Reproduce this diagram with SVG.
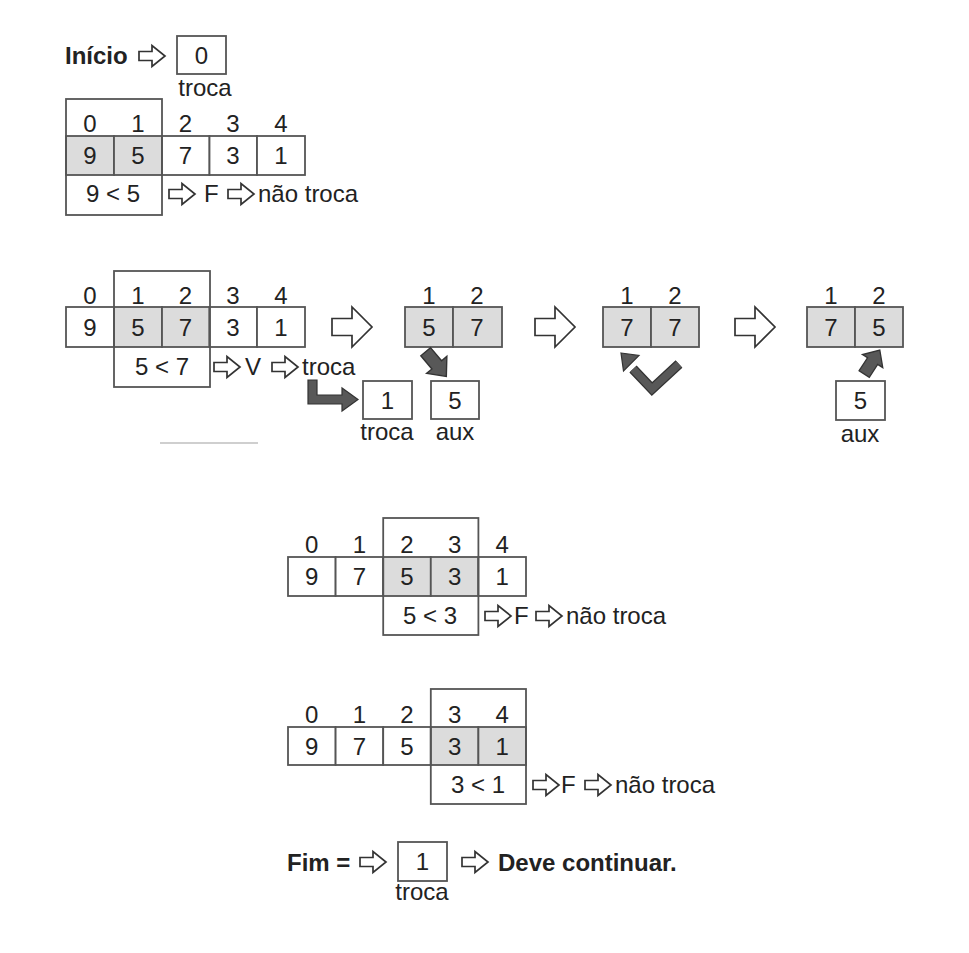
<svg xmlns="http://www.w3.org/2000/svg" width="969" height="953" viewBox="0 0 969 953">
<style>
text{font-family:"Liberation Sans",Arial,sans-serif;font-size:24px;fill:#222}
.b{font-weight:bold}
.m{text-anchor:middle}
.cell{fill:#fff;stroke:#555;stroke-width:1.8}
.sh{fill:#dcdcdc;stroke:#555;stroke-width:1.8}
.win{fill:none;stroke:#555;stroke-width:1.8}
.ha{fill:#fff;stroke:#333;stroke-width:1.7;stroke-linejoin:miter}
.da{fill:#585858;stroke:#333;stroke-width:1.2;stroke-linejoin:miter}
</style>
<defs>
<path id="sa" d="M0,-4.5 H13 V-10.5 L26,0 L13,10.5 V4.5 H0 Z"/>
<path id="ba" d="M0,-8.5 H20 V-20 L40,0 L20,20 V8.5 H0 Z"/>
</defs>
<rect width="969" height="953" fill="#fff"/>

<g id="inicio">
<text x="65" y="64" class="b">Início</text>
<rect class="cell" x="177" y="36" width="49" height="38"/>
<text x="201.5" y="64" class="m">0</text>
<text x="205" y="96" class="m">troca</text>
</g>

<g id="passo1">
<rect class="sh" x="66" y="136" width="48" height="39"/>
<rect class="sh" x="114" y="136" width="48" height="39"/>
<rect class="cell" x="162" y="136" width="47.5" height="39"/>
<rect class="cell" x="209.5" y="136" width="47.5" height="39"/>
<rect class="cell" x="257" y="136" width="48" height="39"/>
<rect class="win" x="66" y="99" width="96" height="116"/>
<text x="90" y="132" class="m">0</text><text x="138" y="132" class="m">1</text><text x="185.5" y="132" class="m">2</text><text x="233" y="132" class="m">3</text><text x="281" y="132" class="m">4</text>
<text x="90" y="164" class="m">9</text><text x="138" y="164" class="m">5</text><text x="185.5" y="164" class="m">7</text><text x="233" y="164" class="m">3</text><text x="281" y="164" class="m">1</text>
<text x="113" y="202" class="m">9 &lt; 5</text>
<text x="204" y="202">F</text>
<text x="258" y="202">não troca</text>
</g>

<g id="passo2">
<rect class="cell" x="66" y="307" width="48" height="40"/>
<rect class="sh" x="114" y="307" width="48" height="40"/>
<rect class="sh" x="162" y="307" width="47.5" height="40"/>
<rect class="cell" x="209.5" y="307" width="47.5" height="40"/>
<rect class="cell" x="257" y="307" width="48" height="40"/>
<rect class="win" x="114" y="271" width="96" height="116"/>
<text x="90" y="304" class="m">0</text><text x="138" y="304" class="m">1</text><text x="185.5" y="304" class="m">2</text><text x="233" y="304" class="m">3</text><text x="281" y="304" class="m">4</text>
<text x="90" y="336" class="m">9</text><text x="138" y="336" class="m">5</text><text x="185.5" y="336" class="m">7</text><text x="233" y="336" class="m">3</text><text x="281" y="336" class="m">1</text>
<text x="162" y="375" class="m">5 &lt; 7</text>
<text x="245" y="375">V</text>
<text x="302" y="375">troca</text>
</g>

<g id="par57">
<rect class="sh" x="405" y="307" width="48" height="40"/>
<rect class="sh" x="453" y="307" width="49" height="40"/>
<text x="429" y="304" class="m">1</text><text x="477" y="304" class="m">2</text>
<text x="429" y="336" class="m">5</text><text x="477" y="336" class="m">7</text>
</g>

<g id="troca1">
<rect class="cell" x="363" y="381" width="49" height="38"/>
<text x="387.5" y="409" class="m">1</text>
<text x="387" y="440" class="m">troca</text>
</g>

<g id="aux1">
<rect class="cell" x="431" y="381" width="48" height="38"/>
<text x="455" y="409" class="m">5</text>
<text x="455" y="440" class="m">aux</text>
</g>

<g id="par77">
<rect class="sh" x="603" y="307" width="48" height="40"/>
<rect class="sh" x="651" y="307" width="48" height="40"/>
<text x="627" y="304" class="m">1</text><text x="675" y="304" class="m">2</text>
<text x="627" y="336" class="m">7</text><text x="675" y="336" class="m">7</text>
</g>

<g id="par75">
<rect class="sh" x="807" y="307" width="48" height="40"/>
<rect class="sh" x="855" y="307" width="48" height="40"/>
<text x="831" y="304" class="m">1</text><text x="879" y="304" class="m">2</text>
<text x="831" y="336" class="m">7</text><text x="879" y="336" class="m">5</text>
</g>

<g id="aux2">
<rect class="cell" x="836" y="381" width="49" height="39"/>
<text x="860.5" y="409" class="m">5</text>
<text x="860" y="442" class="m">aux</text>
</g>

<line x1="160" y1="443" x2="258" y2="443" stroke="#cfcfcf" stroke-width="2"/>

<g id="passo3">
<rect class="cell" x="288" y="557" width="47.6" height="39"/>
<rect class="cell" x="335.6" y="557" width="47.6" height="39"/>
<rect class="sh" x="383.2" y="557" width="47.6" height="39"/>
<rect class="sh" x="430.8" y="557" width="47.6" height="39"/>
<rect class="cell" x="478.4" y="557" width="47.6" height="39"/>
<rect class="win" x="383.2" y="518" width="95.2" height="117"/>
<text x="311.8" y="553" class="m">0</text><text x="359.4" y="553" class="m">1</text><text x="407" y="553" class="m">2</text><text x="454.6" y="553" class="m">3</text><text x="502.2" y="553" class="m">4</text>
<text x="311.8" y="585" class="m">9</text><text x="359.4" y="585" class="m">7</text><text x="407" y="585" class="m">5</text><text x="454.6" y="585" class="m">3</text><text x="502.2" y="585" class="m">1</text>
<text x="430" y="624" class="m">5 &lt; 3</text>
<text x="514" y="624">F</text>
<text x="566" y="624">não troca</text>
</g>

<g id="passo4">
<rect class="cell" x="288" y="727" width="47.6" height="38"/>
<rect class="cell" x="335.6" y="727" width="47.6" height="38"/>
<rect class="cell" x="383.2" y="727" width="47.6" height="38"/>
<rect class="sh" x="430.8" y="727" width="47.6" height="38"/>
<rect class="sh" x="478.4" y="727" width="47.6" height="38"/>
<rect class="win" x="430.8" y="689" width="95.2" height="115"/>
<text x="311.8" y="723" class="m">0</text><text x="359.4" y="723" class="m">1</text><text x="407" y="723" class="m">2</text><text x="454.6" y="723" class="m">3</text><text x="502.2" y="723" class="m">4</text>
<text x="311.8" y="755" class="m">9</text><text x="359.4" y="755" class="m">7</text><text x="407" y="755" class="m">5</text><text x="454.6" y="755" class="m">3</text><text x="502.2" y="755" class="m">1</text>
<text x="478" y="793" class="m">3 &lt; 1</text>
<text x="561" y="793">F</text>
<text x="615" y="793">não troca</text>
</g>

<g id="fim">
<text x="287" y="871" class="b">Fim =</text>
<rect class="cell" x="398" y="842" width="49" height="39"/>
<text x="422.5" y="870" class="m">1</text>
<text x="422" y="900" class="m">troca</text>
<text x="498" y="871" class="b">Deve continuar.</text>
</g>

<g id="conectores">
<use href="#sa" class="ha" x="139" y="56"/>
<use href="#sa" class="ha" x="169" y="194"/>
<use href="#sa" class="ha" x="228" y="194"/>
<use href="#sa" class="ha" x="214" y="367"/>
<use href="#sa" class="ha" x="272" y="367"/>
<use href="#ba" class="ha" x="332" y="327"/>
<use href="#ba" class="ha" x="535" y="327"/>
<use href="#ba" class="ha" x="735" y="327"/>
<use href="#sa" class="ha" x="485" y="616"/>
<use href="#sa" class="ha" x="536" y="616"/>
<use href="#sa" class="ha" x="533" y="785"/>
<use href="#sa" class="ha" x="585" y="785"/>
<use href="#sa" class="ha" x="360" y="862"/>
<use href="#sa" class="ha" x="462" y="862"/>
<polygon class="da" points="308,380 317,380 317,395 342,395 342,388 358,399.5 342,411 342,404 308,404"/>
<polygon class="da" transform="translate(436,364) rotate(50) scale(1.15)" points="-14,-5.5 1,-5.5 1,-11.5 14,0 1,11.5 1,5.5 -14,5.5"/>
<polygon class="da" transform="translate(872,362) rotate(-57) scale(1.1)" points="-13,-5.5 1,-5.5 1,-11 13,0 1,11 1,5.5 -13,5.5"/>
<polyline points="679,364 652,389 633,369" fill="none" stroke="#333" stroke-width="10" stroke-linejoin="miter"/>
<polyline points="679,364 652,389 633,369" fill="none" stroke="#585858" stroke-width="7.6" stroke-linejoin="miter"/>
<polygon class="da" points="621,353 639,355.5 623.5,371"/>
</g>
</svg>
